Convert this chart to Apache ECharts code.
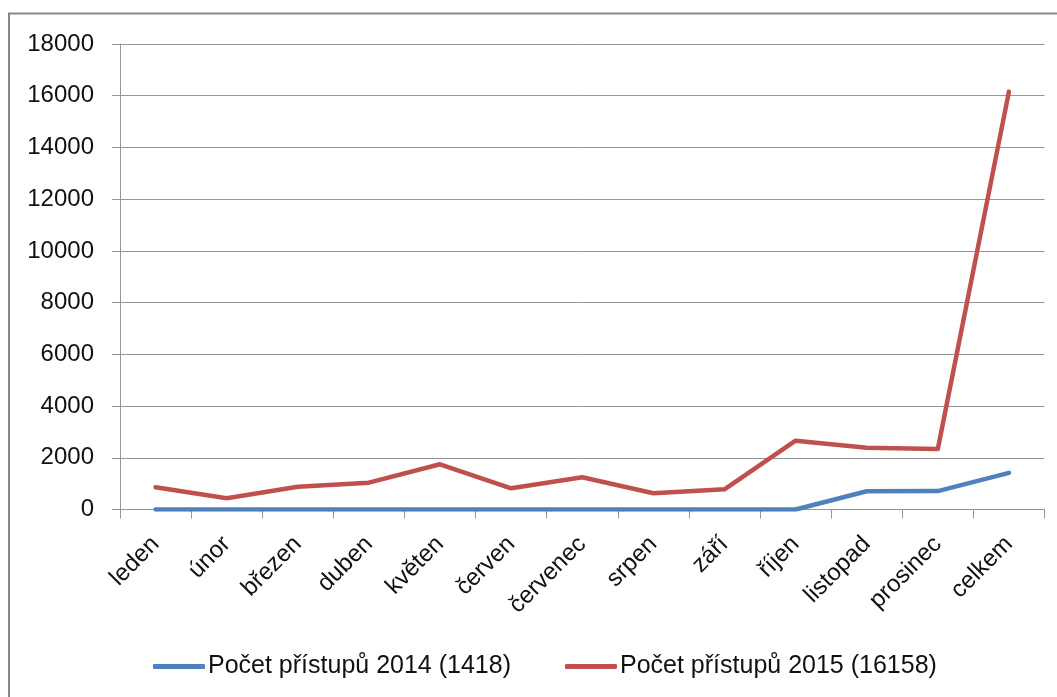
<!DOCTYPE html>
<html>
<head>
<meta charset="utf-8">
<script src="https://cdn.jsdelivr.net/npm/echarts@6/dist/echarts.min.js"></script>
<style>
  html, body { margin: 0; padding: 0; background: #fff; }
  #chart { width: 1057px; height: 697px; }
</style>
</head>
<body>
<div id="chart"></div>
<script>
// months + total column
var categories = ['leden', 'únor', 'březen', 'duben', 'květen', 'červen', 'červenec',
  'srpen', 'září', 'říjen', 'listopad', 'prosinec', 'celkem']
var visits2014 = [0, 0, 0, 0, 0, 0, 0, 0, 0, 0, 705, 713, 1418]
var visits2015 = [860, 433, 882, 1037, 1749, 820, 1246, 627, 781, 2662, 2391, 2340, 16158]
var seriesNames = ['Počet přístupů 2014 (1418)', 'Počet přístupů 2015 (16158)']
var yTicks = { min: 0, max: 18000, step: 2000 }

var font = '"Liberation Sans", Arial, sans-serif'
var gridGray = '#969696'

var chart = echarts.init(document.getElementById('chart'))
chart.setOption({
  animation: false,
  textStyle: { fontFamily: font },
  graphic: [{
    type: 'rect',
    shape: { x: 9, y: 13.5, width: 1100, height: 800 },
    style: { fill: 'none', stroke: '#878787', lineWidth: 2 },
    silent: true
  }],
  grid: {
    left: 120,
    top: 44,
    right: 12.5,
    bottom: 187.5,
    containLabel: false
  },
  legend: {
    left: 148,
    top: 649,
    itemWidth: 52,
    itemHeight: 5,
    itemGap: 54,
    icon: 'roundRect',
    textStyle: { fontFamily: font, fontSize: 25, color: '#111', padding: [0, 0, 0, -2] },
    data: seriesNames
  },
  xAxis: {
    type: 'category',
    data: categories,
    boundaryGap: true,
    axisLine: { lineStyle: { color: gridGray, width: 1 } },
    axisTick: { show: true, length: 9, lineStyle: { color: gridGray } },
    axisLabel: {
      rotate: 45,
      margin: 31,
      fontSize: 24,
      color: '#111',
      fontFamily: font,
      interval: 0
    },
    splitLine: { show: false }
  },
  yAxis: {
    type: 'value',
    min: yTicks.min,
    max: yTicks.max,
    interval: yTicks.step,
    axisLine: { show: true, lineStyle: { color: gridGray, width: 1 } },
    axisTick: { show: true, length: 8, lineStyle: { color: gridGray } },
    axisLabel: {
      margin: 26,
      fontSize: 24,
      color: '#111',
      fontFamily: font,
      formatter: function (v) { return String(v) }
    },
    splitLine: { show: true, lineStyle: { color: gridGray, width: 1 } }
  },
  series: [{
    name: seriesNames[0],
    type: 'line',
    data: visits2014,
    symbol: 'none',
    color: '#4F81BD',
    lineStyle: { width: 4.5, cap: 'round', join: 'round' }
  }, {
    name: seriesNames[1],
    type: 'line',
    data: visits2015,
    symbol: 'none',
    color: '#C0504D',
    lineStyle: { width: 4.5, cap: 'round', join: 'round' }
  }]
})
</script>
</body>
</html>
